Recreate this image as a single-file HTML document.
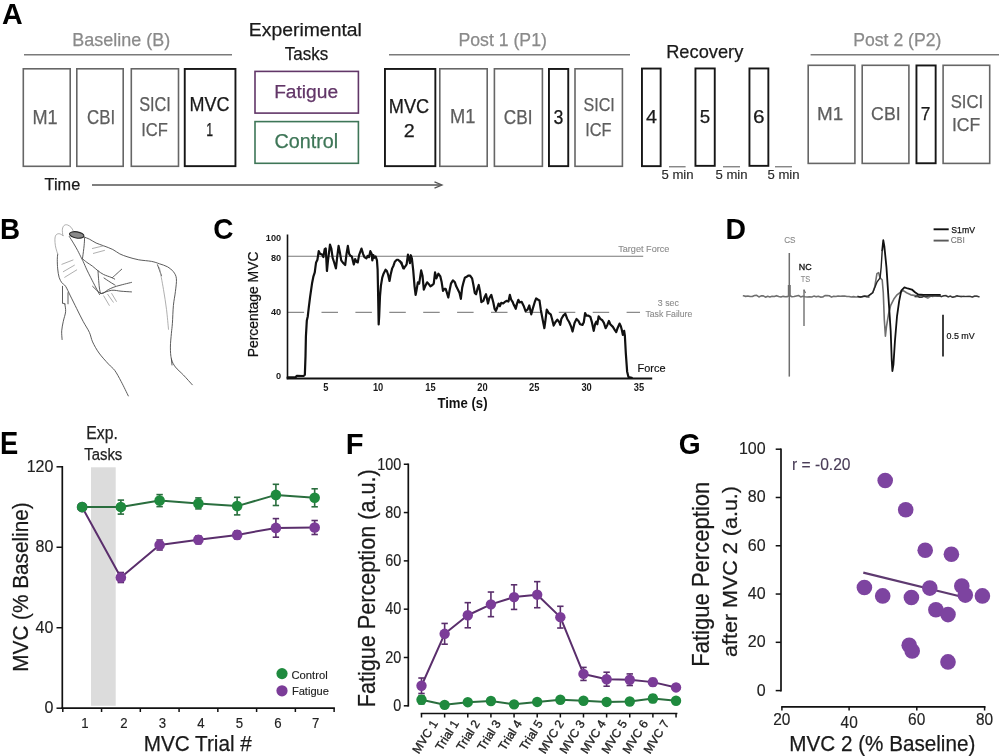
<!DOCTYPE html>
<html><head><meta charset="utf-8"><title>Figure</title>
<style>
html,body{margin:0;padding:0;background:#fff;overflow:hidden;}
svg{display:block;}
svg text{font-family:"Liberation Sans", Arial, sans-serif;}
</style></head>
<body>
<svg width="999" height="756" viewBox="0 0 999 756">
<rect x="0" y="0" width="999" height="756" fill="#fff"/>
<text x="1.89" y="24.40" font-size="29.94" font-weight="bold" fill="#000" textLength="20.67" lengthAdjust="spacingAndGlyphs" >A</text>
<text x="-0.01" y="239.40" font-size="30.09" font-weight="bold" fill="#000" textLength="20.07" lengthAdjust="spacingAndGlyphs" >B</text>
<text x="213.35" y="238.80" font-size="30.09" font-weight="bold" fill="#000" textLength="20.21" lengthAdjust="spacingAndGlyphs" >C</text>
<text x="725.40" y="239.40" font-size="30.38" font-weight="bold" fill="#000" textLength="20.49" lengthAdjust="spacingAndGlyphs" >D</text>
<text x="0.02" y="454.20" font-size="30.52" font-weight="bold" fill="#000" textLength="18.25" lengthAdjust="spacingAndGlyphs" >E</text>
<text x="345.75" y="453.60" font-size="30.09" font-weight="bold" fill="#000" textLength="17.82" lengthAdjust="spacingAndGlyphs" >F</text>
<text x="678.65" y="453.80" font-size="29.36" font-weight="bold" fill="#000" textLength="21.90" lengthAdjust="spacingAndGlyphs" >G</text>
<text x="72.33" y="45.90" font-size="18.31" fill="#8a8a8a" stroke="#8a8a8a" stroke-width="0.25" textLength="97.89" lengthAdjust="spacingAndGlyphs" >Baseline (B)</text>
<line x1="24.00" y1="54.70" x2="232.00" y2="54.70" stroke="#7a7a7a" stroke-width="1.4" />
<text x="248.81" y="36.40" font-size="18.90" fill="#1a1a1a" stroke="#1a1a1a" stroke-width="0.25" textLength="113.09" lengthAdjust="spacingAndGlyphs" >Experimental</text>
<text x="284.83" y="59.70" font-size="18.75" fill="#1a1a1a" stroke="#1a1a1a" stroke-width="0.25" textLength="43.35" lengthAdjust="spacingAndGlyphs" >Tasks</text>
<text x="458.45" y="45.90" font-size="18.31" fill="#8a8a8a" stroke="#8a8a8a" stroke-width="0.25" textLength="88.45" lengthAdjust="spacingAndGlyphs" >Post 1 (P1)</text>
<line x1="389.00" y1="54.70" x2="630.00" y2="54.70" stroke="#7a7a7a" stroke-width="1.4" />
<text x="666.20" y="58.00" font-size="19.04" fill="#1a1a1a" stroke="#1a1a1a" stroke-width="0.25" textLength="77.13" lengthAdjust="spacingAndGlyphs" >Recovery</text>
<text x="853.25" y="45.90" font-size="18.31" fill="#8a8a8a" stroke="#8a8a8a" stroke-width="0.25" textLength="88.14" lengthAdjust="spacingAndGlyphs" >Post 2 (P2)</text>
<line x1="810.60" y1="54.70" x2="999.00" y2="54.70" stroke="#7a7a7a" stroke-width="1.4" />
<rect x="23.30" y="68.80" width="46.90" height="97.50" fill="none" stroke="#666" stroke-width="1.6"/>
<rect x="76.80" y="68.80" width="46.40" height="97.50" fill="none" stroke="#666" stroke-width="1.6"/>
<rect x="131.30" y="68.80" width="47.20" height="97.50" fill="none" stroke="#666" stroke-width="1.6"/>
<rect x="184.75" y="68.95" width="50.70" height="97.20" fill="none" stroke="#161616" stroke-width="1.9"/>
<rect x="384.95" y="68.95" width="50.40" height="97.20" fill="none" stroke="#161616" stroke-width="1.9"/>
<rect x="439.80" y="68.80" width="47.40" height="97.50" fill="none" stroke="#666" stroke-width="1.6"/>
<rect x="494.40" y="68.80" width="48.00" height="97.50" fill="none" stroke="#666" stroke-width="1.6"/>
<rect x="548.95" y="68.95" width="19.30" height="97.20" fill="none" stroke="#161616" stroke-width="1.9"/>
<rect x="575.00" y="68.80" width="47.40" height="97.50" fill="none" stroke="#666" stroke-width="1.6"/>
<rect x="641.95" y="68.55" width="18.70" height="97.60" fill="none" stroke="#161616" stroke-width="1.9"/>
<rect x="695.45" y="68.45" width="19.30" height="97.40" fill="none" stroke="#161616" stroke-width="1.9"/>
<rect x="749.45" y="68.45" width="18.90" height="97.40" fill="none" stroke="#161616" stroke-width="1.9"/>
<rect x="808.20" y="65.30" width="46.70" height="98.10" fill="none" stroke="#666" stroke-width="1.6"/>
<rect x="862.20" y="65.30" width="46.70" height="98.10" fill="none" stroke="#666" stroke-width="1.6"/>
<rect x="916.45" y="65.45" width="19.20" height="97.80" fill="none" stroke="#161616" stroke-width="1.9"/>
<rect x="943.10" y="65.30" width="46.60" height="98.10" fill="none" stroke="#666" stroke-width="1.6"/>
<rect x="255.00" y="71.40" width="103.40" height="41.70" fill="none" stroke="#623668" stroke-width="1.6"/>
<rect x="255.00" y="121.60" width="103.40" height="41.70" fill="none" stroke="#3e7657" stroke-width="1.6"/>
<text x="274.13" y="97.60" font-size="19.19" fill="#623668" stroke="#623668" stroke-width="0.25" textLength="63.92" lengthAdjust="spacingAndGlyphs" >Fatigue</text>
<text x="274.40" y="148.30" font-size="19.91" fill="#3e7657" stroke="#3e7657" stroke-width="0.25" textLength="63.73" lengthAdjust="spacingAndGlyphs" >Control</text>
<text x="32.51" y="123.50" font-size="19.62" fill="#5e5e5e" stroke="#5e5e5e" stroke-width="0.25" textLength="25.17" lengthAdjust="spacingAndGlyphs" >M1</text>
<text x="87.04" y="123.50" font-size="19.62" fill="#5e5e5e" stroke="#5e5e5e" stroke-width="0.25" textLength="28.11" lengthAdjust="spacingAndGlyphs" >CBI</text>
<text x="139.16" y="111.10" font-size="19.48" fill="#5e5e5e" stroke="#5e5e5e" stroke-width="0.25" textLength="31.75" lengthAdjust="spacingAndGlyphs" >SICI</text>
<text x="141.17" y="135.70" font-size="19.19" fill="#5e5e5e" stroke="#5e5e5e" stroke-width="0.25" textLength="26.69" lengthAdjust="spacingAndGlyphs" >ICF</text>
<text x="189.62" y="111.10" font-size="19.48" fill="#1a1a1a" stroke="#1a1a1a" stroke-width="0.25" textLength="39.96" lengthAdjust="spacingAndGlyphs" >MVC</text>
<text x="206.16" y="135.70" font-size="19.19" fill="#1a1a1a" stroke="#1a1a1a" stroke-width="0.25" textLength="6.84" lengthAdjust="spacingAndGlyphs" >1</text>
<text x="388.81" y="112.80" font-size="19.33" fill="#1a1a1a" stroke="#1a1a1a" stroke-width="0.25" textLength="40.38" lengthAdjust="spacingAndGlyphs" >MVC</text>
<text x="403.81" y="137.00" font-size="18.90" fill="#1a1a1a" stroke="#1a1a1a" stroke-width="0.25" textLength="10.99" lengthAdjust="spacingAndGlyphs" >2</text>
<text x="450.10" y="123.30" font-size="19.33" fill="#5e5e5e" stroke="#5e5e5e" stroke-width="0.25" textLength="25.39" lengthAdjust="spacingAndGlyphs" >M1</text>
<text x="503.83" y="123.60" font-size="19.33" fill="#5e5e5e" stroke="#5e5e5e" stroke-width="0.25" textLength="28.66" lengthAdjust="spacingAndGlyphs" >CBI</text>
<text x="553.53" y="123.60" font-size="19.33" fill="#1a1a1a" stroke="#1a1a1a" stroke-width="0.25" textLength="9.85" lengthAdjust="spacingAndGlyphs" >3</text>
<text x="583.47" y="111.30" font-size="18.75" fill="#5e5e5e" stroke="#5e5e5e" stroke-width="0.25" textLength="31.32" lengthAdjust="spacingAndGlyphs" >SICI</text>
<text x="585.20" y="135.50" font-size="18.90" fill="#5e5e5e" stroke="#5e5e5e" stroke-width="0.25" textLength="26.26" lengthAdjust="spacingAndGlyphs" >ICF</text>
<text x="646.04" y="123.10" font-size="19.04" fill="#1a1a1a" stroke="#1a1a1a" stroke-width="0.25" textLength="11.04" lengthAdjust="spacingAndGlyphs" >4</text>
<text x="699.75" y="123.10" font-size="19.04" fill="#1a1a1a" stroke="#1a1a1a" stroke-width="0.25" textLength="10.44" lengthAdjust="spacingAndGlyphs" >5</text>
<text x="753.14" y="123.10" font-size="19.04" fill="#1a1a1a" stroke="#1a1a1a" stroke-width="0.25" textLength="11.57" lengthAdjust="spacingAndGlyphs" >6</text>
<text x="817.05" y="119.50" font-size="19.19" fill="#5e5e5e" stroke="#5e5e5e" stroke-width="0.25" textLength="26.16" lengthAdjust="spacingAndGlyphs" >M1</text>
<text x="871.10" y="119.50" font-size="19.19" fill="#5e5e5e" stroke="#5e5e5e" stroke-width="0.25" textLength="29.53" lengthAdjust="spacingAndGlyphs" >CBI</text>
<text x="920.81" y="119.50" font-size="19.19" fill="#1a1a1a" stroke="#1a1a1a" stroke-width="0.25" textLength="9.66" lengthAdjust="spacingAndGlyphs" >7</text>
<text x="950.64" y="107.50" font-size="18.90" fill="#5e5e5e" stroke="#5e5e5e" stroke-width="0.25" textLength="32.50" lengthAdjust="spacingAndGlyphs" >SICI</text>
<text x="951.88" y="131.10" font-size="18.60" fill="#5e5e5e" stroke="#5e5e5e" stroke-width="0.25" textLength="28.33" lengthAdjust="spacingAndGlyphs" >ICF</text>
<line x1="669.00" y1="166.75" x2="685.60" y2="166.75" stroke="#7a7a7a" stroke-width="1.3" />
<text x="661.47" y="178.50" font-size="12.06" fill="#2a2a2a" stroke="#2a2a2a" stroke-width="0.15" textLength="32.13" lengthAdjust="spacingAndGlyphs" >5 min</text>
<line x1="723.00" y1="166.75" x2="740.00" y2="166.75" stroke="#7a7a7a" stroke-width="1.3" />
<text x="715.47" y="178.50" font-size="12.06" fill="#2a2a2a" stroke="#2a2a2a" stroke-width="0.15" textLength="32.13" lengthAdjust="spacingAndGlyphs" >5 min</text>
<line x1="775.00" y1="166.75" x2="792.00" y2="166.75" stroke="#7a7a7a" stroke-width="1.3" />
<text x="767.47" y="178.50" font-size="12.06" fill="#2a2a2a" stroke="#2a2a2a" stroke-width="0.15" textLength="32.13" lengthAdjust="spacingAndGlyphs" >5 min</text>
<text x="44.64" y="189.50" font-size="15.63" fill="#1a1a1a" stroke="#1a1a1a" stroke-width="0.25" textLength="35.57" lengthAdjust="spacingAndGlyphs" >Time</text>
<line x1="92.00" y1="185.00" x2="441.00" y2="185.00" stroke="#555" stroke-width="1.3" />
<polyline points="434.5,181.8 442,185 434.5,188.2" fill="none" stroke="#555" stroke-width="1.3"/>
<path d="M84.10,237.00 C85.03,237.38 87.70,238.30 89.70,239.30 C91.70,240.30 93.78,241.92 96.10,243.00 C98.42,244.08 100.82,244.72 103.60,245.80 C106.38,246.88 110.10,248.15 112.80,249.50 C115.50,250.85 117.27,252.65 119.80,253.90 C122.33,255.15 124.85,256.02 128.00,257.00 C131.15,257.98 134.77,259.07 138.70,259.80 C142.63,260.53 148.13,260.73 151.60,261.40 C155.07,262.07 156.85,262.90 159.50,263.80 C162.15,264.70 165.18,265.48 167.50,266.80 C169.82,268.12 171.92,269.72 173.40,271.70 C174.88,273.68 176.07,275.38 176.40,278.70 C176.73,282.02 175.90,287.13 175.40,291.60 C174.90,296.07 173.90,300.22 173.40,305.50 C172.90,310.78 172.73,318.67 172.40,323.30 C172.07,327.93 171.73,329.33 171.40,333.30 C171.07,337.27 170.40,342.82 170.40,347.10 C170.40,351.38 170.57,355.68 171.40,359.00 C172.23,362.32 173.42,364.35 175.40,367.00 C177.38,369.65 180.48,371.93 183.30,374.90 C186.12,377.87 190.80,383.15 192.30,384.80" fill="none" stroke="#4a4a4a" stroke-width="0.9" stroke-linecap="round" stroke-linejoin="round"/>
<path d="M69.30,236.50 C70.07,237.73 72.52,241.58 73.90,243.90 C75.28,246.22 76.37,248.08 77.60,250.40 C78.83,252.72 80.37,255.95 81.30,257.80 C82.23,259.65 82.27,259.48 83.20,261.50 C84.13,263.52 85.67,267.27 86.90,269.90 C88.13,272.53 89.52,275.15 90.60,277.30 C91.68,279.45 92.48,281.02 93.40,282.80 C94.32,284.58 95.08,286.05 96.10,288.00 C97.12,289.95 98.93,293.42 99.50,294.50" fill="none" stroke="#4a4a4a" stroke-width="0.9" stroke-linecap="round" stroke-linejoin="round"/>
<path d="M84.60,237.90 C84.52,239.22 84.42,242.63 84.10,245.80 C83.78,248.97 83.00,254.75 82.70,256.90 C82.40,259.05 82.37,258.40 82.30,258.70" fill="none" stroke="#4a4a4a" stroke-width="0.9" stroke-linecap="round" stroke-linejoin="round"/>
<path d="M82.30,258.70 C83.07,259.32 85.22,261.17 86.90,262.40 C88.58,263.63 90.55,264.70 92.40,266.10 C94.25,267.50 96.13,269.40 98.00,270.80 C99.87,272.20 101.43,273.42 103.60,274.50 C105.77,275.58 109.15,276.53 111.00,277.30 C112.85,278.07 114.08,278.80 114.70,279.10" fill="none" stroke="#4a4a4a" stroke-width="0.9" stroke-linecap="round" stroke-linejoin="round"/>
<path d="M98.00,270.80 C98.08,272.03 98.27,275.33 98.50,278.20 C98.73,281.07 99.07,285.45 99.40,288.00 C99.73,290.55 100.32,292.58 100.50,293.50" fill="none" stroke="#4a4a4a" stroke-width="0.9" stroke-linecap="round" stroke-linejoin="round"/>
<path d="M92.60,286.30 C94.05,287.50 98.65,292.97 101.30,293.50 C103.95,294.03 105.98,290.70 108.50,289.50 C111.02,288.30 112.57,287.48 116.40,286.30 C120.23,285.12 128.98,283.05 131.50,282.40" fill="none" stroke="#4a4a4a" stroke-width="0.9" stroke-linecap="round" stroke-linejoin="round"/>
<path d="M101.30,293.50 C103.03,292.97 108.42,290.68 111.70,290.30 C114.98,289.92 117.70,290.93 121.00,291.20 C124.30,291.47 129.75,291.78 131.50,291.90" fill="none" stroke="#4a4a4a" stroke-width="0.9" stroke-linecap="round" stroke-linejoin="round"/>
<path d="M112.50,277.50 C113.25,276.83 115.47,274.88 117.00,273.50 C118.53,272.12 120.92,269.92 121.70,269.20" fill="none" stroke="#4a4a4a" stroke-width="0.9" stroke-linecap="round" stroke-linejoin="round"/>
<path d="M104.00,278.00 C105.00,278.67 108.15,280.82 110.00,282.00 C111.85,283.18 114.25,284.58 115.10,285.10" fill="none" stroke="#4a4a4a" stroke-width="0.9" stroke-linecap="round" stroke-linejoin="round"/>
<path d="M57.70,254.10 C57.63,255.03 57.30,257.23 57.30,259.70 C57.30,262.17 57.40,265.97 57.70,268.90 C58.00,271.83 58.40,274.98 59.10,277.30 C59.80,279.62 60.82,281.30 61.90,282.80 C62.98,284.30 64.18,284.12 65.60,286.30 C67.02,288.48 68.55,292.18 70.40,295.90 C72.25,299.62 74.58,304.37 76.70,308.60 C78.82,312.83 80.98,317.33 83.10,321.30 C85.22,325.27 87.82,328.97 89.40,332.40 C90.98,335.83 91.00,338.47 92.60,341.90 C94.20,345.33 96.35,349.30 99.00,353.00 C101.65,356.70 105.87,361.18 108.50,364.10 C111.13,367.02 112.68,367.58 114.80,370.50 C116.92,373.42 118.95,377.37 121.20,381.60 C123.45,385.83 127.12,393.52 128.30,395.90" fill="none" stroke="#4a4a4a" stroke-width="0.9" stroke-linecap="round" stroke-linejoin="round"/>
<polyline points="62.50,286.30 62.50,303.00" fill="none" stroke="#4a4a4a" stroke-width="0.9" stroke-linejoin="round" stroke-linecap="round" />
<polyline points="68.00,292.70 68.00,303.80" fill="none" stroke="#4a4a4a" stroke-width="0.9" stroke-linejoin="round" stroke-linecap="round" />
<polyline points="62.50,303.00 65.00,304.00" fill="none" stroke="#4a4a4a" stroke-width="0.9" stroke-linejoin="round" stroke-linecap="round" />
<path d="M64.80,303.80 C64.93,305.12 65.85,308.78 65.60,311.70 C65.35,314.62 63.95,318.12 63.30,321.30 C62.65,324.48 61.90,327.77 61.70,330.80 C61.50,333.83 62.03,338.05 62.10,339.50" fill="none" stroke="#4a4a4a" stroke-width="0.9" stroke-linecap="round" stroke-linejoin="round"/>
<polyline points="157.50,264.80 161.50,275.70" fill="none" stroke="#4a4a4a" stroke-width="0.9" stroke-linejoin="round" stroke-linecap="round" />
<polyline points="171.40,359.00 172.00,365.00" fill="none" stroke="#4a4a4a" stroke-width="0.9" stroke-linejoin="round" stroke-linecap="round" />
<path d="M62.80,235.60 C62.73,234.52 62.17,230.80 62.40,229.10 C62.63,227.40 63.37,226.10 64.20,225.40 C65.03,224.70 66.25,224.58 67.40,224.90 C68.55,225.22 70.17,226.37 71.10,227.30 C72.03,228.23 72.68,229.97 73.00,230.50" fill="none" stroke="#9a9a9a" stroke-width="0.8" stroke-linecap="round" stroke-linejoin="round"/>
<path d="M63.30,235.60 C62.60,235.28 60.33,233.78 59.10,233.70 C57.87,233.62 56.60,234.17 55.90,235.10 C55.20,236.03 54.98,237.52 54.90,239.30 C54.82,241.08 55.08,243.80 55.40,245.80 C55.72,247.80 56.42,249.92 56.80,251.30 C57.18,252.68 57.55,253.63 57.70,254.10" fill="none" stroke="#9a9a9a" stroke-width="0.8" stroke-linecap="round" stroke-linejoin="round"/>
<path d="M159.50,267.80 C160.17,271.43 162.33,282.67 163.50,289.60 C164.67,296.53 165.67,302.78 166.50,309.40 C167.33,316.02 168.17,325.98 168.50,329.30" fill="none" stroke="#9a9a9a" stroke-width="0.8" stroke-linecap="round" stroke-linejoin="round"/>
<polyline points="61.90,264.30 73.00,260.00" fill="none" stroke="#9a9a9a" stroke-width="0.8" stroke-linejoin="round" stroke-linecap="round" />
<polyline points="63.30,271.70 74.40,265.20" fill="none" stroke="#9a9a9a" stroke-width="0.8" stroke-linejoin="round" stroke-linecap="round" />
<polyline points="64.70,277.30 76.70,269.90" fill="none" stroke="#9a9a9a" stroke-width="0.8" stroke-linejoin="round" stroke-linecap="round" />
<polyline points="92.40,248.50 103.60,245.80" fill="none" stroke="#9a9a9a" stroke-width="0.8" stroke-linejoin="round" stroke-linecap="round" />
<polyline points="93.40,253.40 104.50,250.40" fill="none" stroke="#9a9a9a" stroke-width="0.8" stroke-linejoin="round" stroke-linecap="round" />
<polyline points="103.70,295.90 109.30,305.40" fill="none" stroke="#9a9a9a" stroke-width="0.8" stroke-linejoin="round" stroke-linecap="round" />
<polyline points="107.70,294.30 113.30,302.20" fill="none" stroke="#9a9a9a" stroke-width="0.8" stroke-linejoin="round" stroke-linecap="round" />
<polyline points="111.70,293.50 116.40,301.40" fill="none" stroke="#9a9a9a" stroke-width="0.8" stroke-linejoin="round" stroke-linecap="round" />
<ellipse cx="76.7" cy="234.9" rx="7.3" ry="3.1" fill="#8a8a8a" stroke="#2a2a2a" stroke-width="1.1" transform="rotate(9 76.7 234.9)"/>
<line x1="287.50" y1="256.20" x2="643.20" y2="256.20" stroke="#777" stroke-width="1.1" />
<line x1="287.60" y1="312.40" x2="640.00" y2="312.40" stroke="#8a8a8a" stroke-width="1.2" stroke-dasharray="16.5 17.4"/>
<polyline points="287.65,377.32 295.58,377.32 296.91,375.74 303.52,376.00 304.85,374.68 305.51,356.16 305.91,336.31 306.83,320.43 307.76,316.46 308.82,307.20 310.14,296.62 312.12,282.92 313.45,276.31 314.77,272.34 315.43,267.05 316.09,262.42 317.42,259.77 318.74,251.17 320.06,253.82 322.05,254.48 323.37,257.12 324.69,249.18 325.75,248.52 326.94,271.02 328.00,260.43 329.99,244.55 331.31,248.52 332.63,257.79 333.95,261.75 335.94,268.37 337.26,256.46 338.59,245.88 339.91,252.49 341.23,260.43 343.22,263.08 345.20,265.06 346.52,253.82 347.85,245.88 349.17,253.82 350.49,255.80 351.82,256.46 353.80,264.40 355.12,259.11 356.45,261.75 357.77,262.42 359.09,255.14 361.48,248.52 363.06,253.82 364.39,257.12 366.37,258.45 367.69,255.80 369.02,257.12 370.34,251.17 371.66,253.82 372.32,260.43 373.38,255.14 374.31,257.79 375.63,256.46 376.96,260.43 377.62,269.69 378.01,289.54 378.68,324.40 379.20,316.00 380.00,296.16 380.92,285.57 382.25,277.63 383.57,273.66 385.56,269.69 386.88,271.02 388.20,274.99 389.53,280.94 390.85,273.66 392.17,268.37 393.49,265.72 394.82,261.75 396.80,259.77 398.13,259.77 400.11,261.75 401.43,262.42 402.76,267.05 404.08,268.37 400.00,261.17 401.32,263.15 403.31,268.45 405.29,266.46 406.62,264.48 407.94,254.55 409.26,259.85 409.92,263.15 410.85,255.22 411.91,258.52 413.23,270.43 414.55,286.31 415.61,294.91 416.54,290.28 417.86,282.34 419.18,283.66 421.17,270.43 422.49,275.72 423.82,289.62 425.14,286.31 427.12,282.34 428.45,283.66 430.43,286.31 432.42,284.99 433.74,283.66 435.06,272.42 436.39,278.37 438.37,273.74 440.35,276.39 441.68,282.34 443.00,290.94 444.32,288.95 445.65,288.95 446.97,292.92 448.29,297.55 449.62,290.28 450.94,283.66 452.92,280.35 454.91,282.34 456.23,286.31 458.22,290.28 459.54,292.92 460.86,298.88 462.19,287.63 463.51,282.34 464.83,277.71 466.16,277.05 468.14,275.72 470.12,275.72 472.11,278.37 473.43,284.99 474.76,292.92 476.08,294.25 477.40,288.95 478.72,284.99 480.05,291.60 481.37,302.19 483.36,300.86 484.68,296.89 486.00,294.25 487.99,303.51 489.31,298.22 491.29,294.91 493.28,302.19 494.60,308.80 495.92,310.79 497.25,307.48 498.57,303.51 499.89,306.16 501.22,302.85 503.20,303.51 504.53,302.19 506.51,300.86 508.49,301.52 509.82,294.91 511.14,299.54 512.46,301.52 513.79,304.83 515.77,308.80 517.09,303.51 518.42,300.20 516.32,305.72 518.31,299.77 519.63,302.42 521.62,301.75 523.60,305.72 525.58,311.02 527.57,309.69 529.29,305.46 530.22,309.69 531.27,314.32 532.86,308.37 534.85,301.75 536.17,298.45 538.15,299.77 539.48,300.43 540.80,309.69 542.79,320.28 544.37,328.22 545.43,320.28 546.75,309.69 548.74,313.00 550.72,314.32 552.05,318.95 553.63,325.57 555.35,322.26 557.34,319.62 559.32,322.26 560.25,324.91 561.31,318.95 563.29,315.65 565.28,313.66 567.26,318.95 569.25,322.26 571.23,326.89 572.55,331.52 574.54,322.92 576.52,318.95 578.51,320.94 580.10,324.25 582.48,324.91 583.80,322.26 585.12,313.00 586.45,315.65 588.43,315.65 590.42,316.97 591.74,321.60 593.72,330.86 595.05,324.25 596.37,321.60 597.30,324.25 598.62,316.31 600.34,318.95 602.32,320.28 603.91,322.92 605.63,328.22 607.35,324.91 608.94,320.94 610.26,324.25 612.91,326.89 614.89,330.20 616.22,332.19 617.54,328.22 619.53,323.59 620.85,326.23 621.91,330.20 622.83,334.83 624.16,330.86 624.87,335.71 625.79,352.91 627.12,371.43 628.44,376.98 631.75,377.78" fill="none" stroke="#111" stroke-width="2.2" stroke-linejoin="round" stroke-linecap="round" />
<line x1="287.50" y1="234.50" x2="287.50" y2="379.20" stroke="#111" stroke-width="1.6" />
<line x1="286.70" y1="378.50" x2="652.20" y2="378.50" stroke="#111" stroke-width="1.9" />
<text x="265.84" y="240.50" font-size="9.88" font-weight="bold" fill="#1a1a1a" textLength="15.34" lengthAdjust="spacingAndGlyphs" >100</text>
<text x="270.95" y="260.90" font-size="9.88" font-weight="bold" fill="#1a1a1a" textLength="10.22" lengthAdjust="spacingAndGlyphs" >80</text>
<text x="270.95" y="315.20" font-size="9.88" font-weight="bold" fill="#1a1a1a" textLength="10.22" lengthAdjust="spacingAndGlyphs" >40</text>
<text x="276.06" y="379.40" font-size="9.88" font-weight="bold" fill="#1a1a1a" textLength="5.11" lengthAdjust="spacingAndGlyphs" >0</text>
<text x="323.19" y="390.70" font-size="10.03" font-weight="bold" fill="#1a1a1a" textLength="5.19" lengthAdjust="spacingAndGlyphs" >5</text>
<text x="372.91" y="390.70" font-size="10.03" font-weight="bold" fill="#1a1a1a" textLength="10.37" lengthAdjust="spacingAndGlyphs" >10</text>
<text x="425.25" y="390.70" font-size="10.03" font-weight="bold" fill="#1a1a1a" textLength="10.37" lengthAdjust="spacingAndGlyphs" >15</text>
<text x="477.34" y="390.70" font-size="10.03" font-weight="bold" fill="#1a1a1a" textLength="10.37" lengthAdjust="spacingAndGlyphs" >20</text>
<text x="528.98" y="390.70" font-size="10.03" font-weight="bold" fill="#1a1a1a" textLength="10.37" lengthAdjust="spacingAndGlyphs" >25</text>
<text x="581.40" y="390.70" font-size="10.03" font-weight="bold" fill="#1a1a1a" textLength="10.37" lengthAdjust="spacingAndGlyphs" >30</text>
<text x="633.84" y="390.70" font-size="10.03" font-weight="bold" fill="#1a1a1a" textLength="10.37" lengthAdjust="spacingAndGlyphs" >35</text>
<text x="437.45" y="407.80" font-size="13.95" font-weight="bold" fill="#111" textLength="50.10" lengthAdjust="spacingAndGlyphs" >Time (s)</text>
<text transform="translate(258.30 357.24) rotate(-90)" x="0" y="0" font-size="14.83" fill="#111" stroke="#111" stroke-width="0.2" textLength="105.67" lengthAdjust="spacingAndGlyphs">Percentage MVC</text>
<text x="618.20" y="252.00" font-size="9.45" fill="#8a8a8a" stroke="#8a8a8a" stroke-width="0.1" textLength="51.20" lengthAdjust="spacingAndGlyphs" >Target Force</text>
<text x="657.86" y="306.30" font-size="9.45" fill="#8a8a8a" stroke="#8a8a8a" stroke-width="0.1" textLength="21.07" lengthAdjust="spacingAndGlyphs" >3 sec</text>
<text x="645.41" y="317.20" font-size="9.59" fill="#8a8a8a" stroke="#8a8a8a" stroke-width="0.1" textLength="46.97" lengthAdjust="spacingAndGlyphs" >Task Failure</text>
<text x="637.50" y="372.00" font-size="10.47" fill="#111" stroke="#111" stroke-width="0.2" textLength="27.98" lengthAdjust="spacingAndGlyphs" >Force</text>
<polyline points="743.50,295.83 745.70,296.38 747.90,296.07 750.10,296.49 752.30,296.53 754.50,295.52 756.70,295.42 758.90,296.91 761.10,295.87 763.30,295.82 765.50,297.19 767.70,296.25 769.90,296.91 772.10,296.26 774.30,296.55 776.50,295.67 778.70,296.54 780.90,296.96 783.10,296.34 785.30,296.73 787.50,296.61 789.70,295.52 791.90,296.76 794.10,296.46 796.30,295.94 798.50,295.46 800.70,296.96 802.90,296.25 805.10,296.69 807.30,296.98 809.50,296.69 811.70,297.06 813.90,296.11 816.10,296.84 818.30,296.20 820.50,297.08 822.70,296.98 824.90,295.58 827.10,295.64 829.30,295.79 831.50,297.14 833.70,296.19 835.90,296.53 838.10,295.94 840.30,296.31 842.50,296.09 844.70,296.03 846.90,296.45 849.10,296.45 851.30,297.03 853.50,296.63 855.70,297.07 857.90,296.94 860.10,297.18 862.30,296.61 864.50,295.69 866.70,296.95 868.90,297.14 868.47,295.90 872.70,292.72 874.81,286.38 876.93,273.68 878.62,272.62 880.11,277.91 882.22,280.03 883.28,292.72 884.34,320.24 885.40,336.11 886.46,326.59 888.57,313.89 890.69,305.42 893.86,299.07 897.04,294.84 900.21,292.30 903.39,290.61 906.56,292.72 910.79,294.84 917.14,295.90 923.49,295.90 927.72,298.02 931.96,295.90 940.00,295.90 915.10,296.69 917.30,296.00 919.50,296.99 921.70,297.17 923.90,296.31 926.10,297.20 928.30,295.96 930.50,295.54 932.70,296.48 934.90,295.46 937.10,295.76 939.30,296.13 941.50,296.50 943.70,295.68 945.90,295.48 948.10,296.96 950.30,295.96 952.50,297.13 954.70,297.01 956.90,296.08 959.10,296.23 961.30,296.34 963.50,296.56 965.70,296.47 967.90,296.41 970.10,296.52 972.30,297.09 974.50,296.31 976.70,296.18 978.90,296.70" fill="none" stroke="#6f6f6f" stroke-width="1.6" stroke-linejoin="round" stroke-linecap="round" />
<line x1="789.30" y1="253.00" x2="789.30" y2="376.60" stroke="#6f6f6f" stroke-width="1.5" />
<rect x="787.8" y="285" width="3" height="11" fill="#6f6f6f"/>
<line x1="804.00" y1="289.50" x2="804.00" y2="326.00" stroke="#6f6f6f" stroke-width="1.4" />
<line x1="804.00" y1="290.00" x2="805.50" y2="293.00" stroke="#6f6f6f" stroke-width="1.2" />
<polyline points="882.22,250.40 883.28,240.24 884.34,246.16 886.46,267.33 888.57,299.07 890.69,330.82 891.75,360.45 892.38,371.03 893.44,364.68 894.92,341.40 897.04,316.01 899.15,301.19 901.27,290.61 904.44,287.43 907.62,288.49 911.85,289.55 915.03,292.30 918.20,294.42 923.49,294.84 940.00,294.84" fill="none" stroke="#111" stroke-width="1.8" stroke-linejoin="round" stroke-linecap="round" />
<polyline points="858.00,296.30 860.00,296.96 868.47,295.90 872.70,292.72 874.81,287.43 876.93,282.14 880.11,277.91 881.16,267.33 882.22,250.40" fill="none" stroke="#222" stroke-width="1.4" stroke-linejoin="round" stroke-linecap="round" />
<polyline points="915.10,296.43 917.30,295.80 919.50,297.46 921.70,297.19 923.90,296.36 926.10,296.71 928.30,295.87 930.50,295.62 932.70,296.00 934.90,295.57 937.10,295.89 939.30,295.69 941.50,296.63 943.70,295.65 945.90,295.66 948.10,296.81 950.30,296.17 952.50,297.36 954.70,296.54 956.90,295.64 959.10,296.40 961.30,296.80 963.50,296.31 965.70,296.43 967.90,296.50 970.10,296.34 972.30,296.96 974.50,296.13 976.70,296.05 978.90,296.79" fill="none" stroke="#333" stroke-width="1.1" stroke-linejoin="round" stroke-linecap="round" />
<text x="784.18" y="242.70" font-size="9.74" fill="#8a8a8a" stroke="#8a8a8a" stroke-width="0.1" textLength="11.39" lengthAdjust="spacingAndGlyphs" >CS</text>
<text x="798.77" y="270.00" font-size="9.01" fill="#111" stroke="#111" stroke-width="0.3" textLength="12.87" lengthAdjust="spacingAndGlyphs" >NC</text>
<text x="800.83" y="281.70" font-size="9.01" fill="#8a8a8a" stroke="#8a8a8a" stroke-width="0.1" textLength="9.51" lengthAdjust="spacingAndGlyphs" >TS</text>
<line x1="943.00" y1="314.70" x2="943.00" y2="356.60" stroke="#111" stroke-width="1.6" />
<text x="946.45" y="339.00" font-size="9.74" fill="#111" stroke="#111" stroke-width="0.2" textLength="28.29" lengthAdjust="spacingAndGlyphs" >0.5 mV</text>
<line x1="933.60" y1="229.30" x2="948.70" y2="229.30" stroke="#111" stroke-width="1.9" />
<line x1="933.60" y1="240.60" x2="948.70" y2="240.60" stroke="#5a5a5a" stroke-width="1.9" />
<text x="951.31" y="233.20" font-size="9.59" fill="#111" stroke="#111" stroke-width="0.25" textLength="23.63" lengthAdjust="spacingAndGlyphs" >S1mV</text>
<text x="950.77" y="243.40" font-size="8.72" fill="#777" stroke="#777" stroke-width="0.1" textLength="14.00" lengthAdjust="spacingAndGlyphs" >CBI</text>
<text x="86.31" y="438.70" font-size="17.59" fill="#222" stroke="#222" stroke-width="0.25" textLength="31.53" lengthAdjust="spacingAndGlyphs" >Exp.</text>
<text x="84.28" y="459.70" font-size="16.86" fill="#222" stroke="#222" stroke-width="0.25" textLength="38.04" lengthAdjust="spacingAndGlyphs" >Tasks</text>
<rect x="91" y="467.3" width="24.7" height="238.5" fill="#dcdcdc"/>
<line x1="62.30" y1="466.00" x2="62.30" y2="708.80" stroke="#111" stroke-width="1.7" />
<line x1="61.50" y1="708.20" x2="334.90" y2="708.20" stroke="#111" stroke-width="1.7" />
<line x1="56.50" y1="466.80" x2="62.30" y2="466.80" stroke="#111" stroke-width="1.5" />
<text x="26.64" y="472.00" font-size="16.35" fill="#222" stroke="#222" stroke-width="0.15" textLength="26.74" lengthAdjust="spacingAndGlyphs" >120</text>
<line x1="56.50" y1="547.26" x2="62.30" y2="547.26" stroke="#111" stroke-width="1.5" />
<text x="35.55" y="552.46" font-size="16.35" fill="#222" stroke="#222" stroke-width="0.15" textLength="17.82" lengthAdjust="spacingAndGlyphs" >80</text>
<line x1="56.50" y1="627.73" x2="62.30" y2="627.73" stroke="#111" stroke-width="1.5" />
<text x="35.55" y="632.93" font-size="16.35" fill="#222" stroke="#222" stroke-width="0.15" textLength="17.82" lengthAdjust="spacingAndGlyphs" >40</text>
<line x1="56.50" y1="708.20" x2="62.30" y2="708.20" stroke="#111" stroke-width="1.5" />
<text x="44.46" y="713.40" font-size="16.35" fill="#222" stroke="#222" stroke-width="0.15" textLength="8.91" lengthAdjust="spacingAndGlyphs" >0</text>
<line x1="62.80" y1="708.20" x2="62.80" y2="712.00" stroke="#111" stroke-width="1.5" />
<line x1="101.56" y1="708.20" x2="101.56" y2="712.00" stroke="#111" stroke-width="1.5" />
<line x1="140.32" y1="708.20" x2="140.32" y2="712.00" stroke="#111" stroke-width="1.5" />
<line x1="179.08" y1="708.20" x2="179.08" y2="712.00" stroke="#111" stroke-width="1.5" />
<line x1="217.84" y1="708.20" x2="217.84" y2="712.00" stroke="#111" stroke-width="1.5" />
<line x1="256.60" y1="708.20" x2="256.60" y2="712.00" stroke="#111" stroke-width="1.5" />
<line x1="295.36" y1="708.20" x2="295.36" y2="712.00" stroke="#111" stroke-width="1.5" />
<line x1="334.12" y1="708.20" x2="334.12" y2="712.00" stroke="#111" stroke-width="1.5" />
<text x="81.35" y="727.50" font-size="14.68" fill="#222" stroke="#222" stroke-width="0.15" textLength="7.35" lengthAdjust="spacingAndGlyphs" >1</text>
<text x="120.23" y="727.50" font-size="14.68" fill="#222" stroke="#222" stroke-width="0.15" textLength="7.35" lengthAdjust="spacingAndGlyphs" >2</text>
<text x="158.66" y="727.50" font-size="14.68" fill="#222" stroke="#222" stroke-width="0.15" textLength="7.35" lengthAdjust="spacingAndGlyphs" >3</text>
<text x="197.37" y="727.50" font-size="14.68" fill="#222" stroke="#222" stroke-width="0.15" textLength="7.35" lengthAdjust="spacingAndGlyphs" >4</text>
<text x="235.74" y="727.50" font-size="14.68" fill="#222" stroke="#222" stroke-width="0.15" textLength="7.35" lengthAdjust="spacingAndGlyphs" >5</text>
<text x="274.28" y="727.50" font-size="14.68" fill="#222" stroke="#222" stroke-width="0.15" textLength="7.35" lengthAdjust="spacingAndGlyphs" >6</text>
<text x="311.92" y="727.50" font-size="14.68" fill="#222" stroke="#222" stroke-width="0.15" textLength="7.35" lengthAdjust="spacingAndGlyphs" >7</text>
<text x="143.72" y="751.20" font-size="22.38" fill="#1a1a1a" stroke="#1a1a1a" stroke-width="0.25" textLength="108.08" lengthAdjust="spacingAndGlyphs" >MVC Trial #</text>
<text transform="translate(27.70 671.70) rotate(-90)" x="0" y="0" font-size="22.97" fill="#1a1a1a" stroke="#1a1a1a" stroke-width="0.25" textLength="169.29" lengthAdjust="spacingAndGlyphs">MVC (% Baseline)</text>
<polyline points="82.10,507.10 120.86,577.50 159.62,545.00 198.38,539.80 237.14,534.90 275.90,527.90 314.66,527.50" fill="none" stroke="#5a2e6c" stroke-width="2" stroke-linejoin="round" stroke-linecap="round" />
<circle cx="82.10" cy="507.10" r="5.3" fill="#7b3c98"/>
<line x1="120.86" y1="572.50" x2="120.86" y2="582.50" stroke="#5a2e6c" stroke-width="1.6" />
<line x1="117.66" y1="572.50" x2="124.06" y2="572.50" stroke="#5a2e6c" stroke-width="1.6" />
<line x1="117.66" y1="582.50" x2="124.06" y2="582.50" stroke="#5a2e6c" stroke-width="1.6" />
<circle cx="120.86" cy="577.50" r="5.3" fill="#7b3c98"/>
<line x1="159.62" y1="540.00" x2="159.62" y2="550.00" stroke="#5a2e6c" stroke-width="1.6" />
<line x1="156.42" y1="540.00" x2="162.82" y2="540.00" stroke="#5a2e6c" stroke-width="1.6" />
<line x1="156.42" y1="550.00" x2="162.82" y2="550.00" stroke="#5a2e6c" stroke-width="1.6" />
<circle cx="159.62" cy="545.00" r="5.3" fill="#7b3c98"/>
<line x1="198.38" y1="535.80" x2="198.38" y2="543.80" stroke="#5a2e6c" stroke-width="1.6" />
<line x1="195.18" y1="535.80" x2="201.58" y2="535.80" stroke="#5a2e6c" stroke-width="1.6" />
<line x1="195.18" y1="543.80" x2="201.58" y2="543.80" stroke="#5a2e6c" stroke-width="1.6" />
<circle cx="198.38" cy="539.80" r="5.3" fill="#7b3c98"/>
<line x1="237.14" y1="530.90" x2="237.14" y2="538.90" stroke="#5a2e6c" stroke-width="1.6" />
<line x1="233.94" y1="530.90" x2="240.34" y2="530.90" stroke="#5a2e6c" stroke-width="1.6" />
<line x1="233.94" y1="538.90" x2="240.34" y2="538.90" stroke="#5a2e6c" stroke-width="1.6" />
<circle cx="237.14" cy="534.90" r="5.3" fill="#7b3c98"/>
<line x1="275.90" y1="518.60" x2="275.90" y2="537.20" stroke="#5a2e6c" stroke-width="1.6" />
<line x1="272.70" y1="518.60" x2="279.10" y2="518.60" stroke="#5a2e6c" stroke-width="1.6" />
<line x1="272.70" y1="537.20" x2="279.10" y2="537.20" stroke="#5a2e6c" stroke-width="1.6" />
<circle cx="275.90" cy="527.90" r="5.3" fill="#7b3c98"/>
<line x1="314.66" y1="520.50" x2="314.66" y2="534.50" stroke="#5a2e6c" stroke-width="1.6" />
<line x1="311.46" y1="520.50" x2="317.86" y2="520.50" stroke="#5a2e6c" stroke-width="1.6" />
<line x1="311.46" y1="534.50" x2="317.86" y2="534.50" stroke="#5a2e6c" stroke-width="1.6" />
<circle cx="314.66" cy="527.50" r="5.3" fill="#7b3c98"/>
<polyline points="82.10,507.10 120.86,507.10 159.62,500.60 198.38,503.40 237.14,506.10 275.90,494.90 314.66,497.80" fill="none" stroke="#2a6e3e" stroke-width="2" stroke-linejoin="round" stroke-linecap="round" />
<circle cx="82.10" cy="507.10" r="5.3" fill="#1f8a3e"/>
<line x1="120.86" y1="500.10" x2="120.86" y2="514.10" stroke="#2a6e3e" stroke-width="1.6" />
<line x1="117.66" y1="500.10" x2="124.06" y2="500.10" stroke="#2a6e3e" stroke-width="1.6" />
<line x1="117.66" y1="514.10" x2="124.06" y2="514.10" stroke="#2a6e3e" stroke-width="1.6" />
<circle cx="120.86" cy="507.10" r="5.3" fill="#1f8a3e"/>
<line x1="159.62" y1="494.60" x2="159.62" y2="506.60" stroke="#2a6e3e" stroke-width="1.6" />
<line x1="156.42" y1="494.60" x2="162.82" y2="494.60" stroke="#2a6e3e" stroke-width="1.6" />
<line x1="156.42" y1="506.60" x2="162.82" y2="506.60" stroke="#2a6e3e" stroke-width="1.6" />
<circle cx="159.62" cy="500.60" r="5.3" fill="#1f8a3e"/>
<line x1="198.38" y1="497.90" x2="198.38" y2="508.90" stroke="#2a6e3e" stroke-width="1.6" />
<line x1="195.18" y1="497.90" x2="201.58" y2="497.90" stroke="#2a6e3e" stroke-width="1.6" />
<line x1="195.18" y1="508.90" x2="201.58" y2="508.90" stroke="#2a6e3e" stroke-width="1.6" />
<circle cx="198.38" cy="503.40" r="5.3" fill="#1f8a3e"/>
<line x1="237.14" y1="497.30" x2="237.14" y2="514.90" stroke="#2a6e3e" stroke-width="1.6" />
<line x1="233.94" y1="497.30" x2="240.34" y2="497.30" stroke="#2a6e3e" stroke-width="1.6" />
<line x1="233.94" y1="514.90" x2="240.34" y2="514.90" stroke="#2a6e3e" stroke-width="1.6" />
<circle cx="237.14" cy="506.10" r="5.3" fill="#1f8a3e"/>
<line x1="275.90" y1="484.30" x2="275.90" y2="505.50" stroke="#2a6e3e" stroke-width="1.6" />
<line x1="272.70" y1="484.30" x2="279.10" y2="484.30" stroke="#2a6e3e" stroke-width="1.6" />
<line x1="272.70" y1="505.50" x2="279.10" y2="505.50" stroke="#2a6e3e" stroke-width="1.6" />
<circle cx="275.90" cy="494.90" r="5.3" fill="#1f8a3e"/>
<line x1="314.66" y1="488.80" x2="314.66" y2="506.80" stroke="#2a6e3e" stroke-width="1.6" />
<line x1="311.46" y1="488.80" x2="317.86" y2="488.80" stroke="#2a6e3e" stroke-width="1.6" />
<line x1="311.46" y1="506.80" x2="317.86" y2="506.80" stroke="#2a6e3e" stroke-width="1.6" />
<circle cx="314.66" cy="497.80" r="5.3" fill="#1f8a3e"/>
<circle cx="282.00" cy="673.60" r="5.6" fill="#1f8a3e"/>
<circle cx="282.00" cy="690.80" r="5.6" fill="#7b3c98"/>
<text x="291.43" y="678.80" font-size="11.63" fill="#222" stroke="#222" stroke-width="0.15" textLength="36.22" lengthAdjust="spacingAndGlyphs" >Control</text>
<text x="291.89" y="695.20" font-size="11.63" fill="#222" stroke="#222" stroke-width="0.15" textLength="37.11" lengthAdjust="spacingAndGlyphs" >Fatigue</text>
<line x1="408.30" y1="463.50" x2="408.30" y2="706.60" stroke="#111" stroke-width="1.7" />
<line x1="403.80" y1="464.25" x2="408.30" y2="464.25" stroke="#111" stroke-width="1.5" />
<text x="377.30" y="469.50" font-size="15.99" fill="#222" stroke="#222" stroke-width="0.15" textLength="24.01" lengthAdjust="spacingAndGlyphs" >100</text>
<line x1="403.80" y1="512.56" x2="408.30" y2="512.56" stroke="#111" stroke-width="1.5" />
<text x="385.31" y="517.81" font-size="15.99" fill="#222" stroke="#222" stroke-width="0.15" textLength="16.01" lengthAdjust="spacingAndGlyphs" >80</text>
<line x1="403.80" y1="560.87" x2="408.30" y2="560.87" stroke="#111" stroke-width="1.5" />
<text x="385.31" y="566.12" font-size="15.99" fill="#222" stroke="#222" stroke-width="0.15" textLength="16.01" lengthAdjust="spacingAndGlyphs" >60</text>
<line x1="403.80" y1="609.18" x2="408.30" y2="609.18" stroke="#111" stroke-width="1.5" />
<text x="385.31" y="614.43" font-size="15.99" fill="#222" stroke="#222" stroke-width="0.15" textLength="16.01" lengthAdjust="spacingAndGlyphs" >40</text>
<line x1="403.80" y1="657.49" x2="408.30" y2="657.49" stroke="#111" stroke-width="1.5" />
<text x="385.31" y="662.74" font-size="15.99" fill="#222" stroke="#222" stroke-width="0.15" textLength="16.01" lengthAdjust="spacingAndGlyphs" >20</text>
<line x1="403.80" y1="705.80" x2="408.30" y2="705.80" stroke="#111" stroke-width="1.5" />
<text x="393.31" y="711.05" font-size="15.99" fill="#222" stroke="#222" stroke-width="0.15" textLength="8.00" lengthAdjust="spacingAndGlyphs" >0</text>
<line x1="420.70" y1="713.50" x2="677.40" y2="713.50" stroke="#111" stroke-width="1.7" />
<line x1="421.50" y1="713.50" x2="421.50" y2="717.50" stroke="#111" stroke-width="1.5" />
<line x1="444.64" y1="713.50" x2="444.64" y2="717.50" stroke="#111" stroke-width="1.5" />
<line x1="467.78" y1="713.50" x2="467.78" y2="717.50" stroke="#111" stroke-width="1.5" />
<line x1="490.92" y1="713.50" x2="490.92" y2="717.50" stroke="#111" stroke-width="1.5" />
<line x1="514.06" y1="713.50" x2="514.06" y2="717.50" stroke="#111" stroke-width="1.5" />
<line x1="537.20" y1="713.50" x2="537.20" y2="717.50" stroke="#111" stroke-width="1.5" />
<line x1="560.34" y1="713.50" x2="560.34" y2="717.50" stroke="#111" stroke-width="1.5" />
<line x1="583.48" y1="713.50" x2="583.48" y2="717.50" stroke="#111" stroke-width="1.5" />
<line x1="606.62" y1="713.50" x2="606.62" y2="717.50" stroke="#111" stroke-width="1.5" />
<line x1="629.76" y1="713.50" x2="629.76" y2="717.50" stroke="#111" stroke-width="1.5" />
<line x1="652.90" y1="713.50" x2="652.90" y2="717.50" stroke="#111" stroke-width="1.5" />
<line x1="676.04" y1="713.50" x2="676.04" y2="717.50" stroke="#111" stroke-width="1.5" />
<text transform="translate(438.2 723.4) rotate(-58)" x="0" y="0" font-size="12" fill="#222" stroke="#222" stroke-width="0.35" text-anchor="end">MVC 1</text>
<text transform="translate(459.2 723.4) rotate(-58)" x="0" y="0" font-size="12" fill="#222" stroke="#222" stroke-width="0.35" text-anchor="end">Trial 1</text>
<text transform="translate(480.3 723.4) rotate(-58)" x="0" y="0" font-size="12" fill="#222" stroke="#222" stroke-width="0.35" text-anchor="end">Trial 2</text>
<text transform="translate(501.3 723.4) rotate(-58)" x="0" y="0" font-size="12" fill="#222" stroke="#222" stroke-width="0.35" text-anchor="end">Trial 3</text>
<text transform="translate(522.3 723.4) rotate(-58)" x="0" y="0" font-size="12" fill="#222" stroke="#222" stroke-width="0.35" text-anchor="end">Trial 4</text>
<text transform="translate(543.4 723.4) rotate(-58)" x="0" y="0" font-size="12" fill="#222" stroke="#222" stroke-width="0.35" text-anchor="end">Trial 5</text>
<text transform="translate(564.4 723.4) rotate(-58)" x="0" y="0" font-size="12" fill="#222" stroke="#222" stroke-width="0.35" text-anchor="end">MVC 2</text>
<text transform="translate(585.4 723.4) rotate(-58)" x="0" y="0" font-size="12" fill="#222" stroke="#222" stroke-width="0.35" text-anchor="end">MVC 3</text>
<text transform="translate(606.4 723.4) rotate(-58)" x="0" y="0" font-size="12" fill="#222" stroke="#222" stroke-width="0.35" text-anchor="end">MVC 4</text>
<text transform="translate(627.5 723.4) rotate(-58)" x="0" y="0" font-size="12" fill="#222" stroke="#222" stroke-width="0.35" text-anchor="end">MVC 5</text>
<text transform="translate(648.5 723.4) rotate(-58)" x="0" y="0" font-size="12" fill="#222" stroke="#222" stroke-width="0.35" text-anchor="end">MVC 6</text>
<text transform="translate(669.5 723.4) rotate(-58)" x="0" y="0" font-size="12" fill="#222" stroke="#222" stroke-width="0.35" text-anchor="end">MVC 7</text>
<text transform="translate(375.40 707.27) rotate(-90)" x="0" y="0" font-size="23.26" fill="#1a1a1a" stroke="#1a1a1a" stroke-width="0.25" textLength="237.91" lengthAdjust="spacingAndGlyphs">Fatigue Perception (a.u.)</text>
<polyline points="421.50,685.75 444.64,633.82 467.78,615.22 490.92,604.35 514.06,597.10 537.20,594.69 560.34,617.15 583.48,673.92 606.62,679.23 629.76,679.71 652.90,682.13 676.04,687.44" fill="none" stroke="#5a2e6c" stroke-width="2" stroke-linejoin="round" stroke-linecap="round" />
<line x1="421.50" y1="678.02" x2="421.50" y2="693.48" stroke="#5a2e6c" stroke-width="1.6" />
<line x1="418.30" y1="678.02" x2="424.70" y2="678.02" stroke="#5a2e6c" stroke-width="1.6" />
<line x1="418.30" y1="693.48" x2="424.70" y2="693.48" stroke="#5a2e6c" stroke-width="1.6" />
<circle cx="421.50" cy="685.75" r="5.2" fill="#7b3c98"/>
<line x1="444.64" y1="623.43" x2="444.64" y2="644.20" stroke="#5a2e6c" stroke-width="1.6" />
<line x1="441.44" y1="623.43" x2="447.84" y2="623.43" stroke="#5a2e6c" stroke-width="1.6" />
<line x1="441.44" y1="644.20" x2="447.84" y2="644.20" stroke="#5a2e6c" stroke-width="1.6" />
<circle cx="444.64" cy="633.82" r="5.2" fill="#7b3c98"/>
<line x1="467.78" y1="602.66" x2="467.78" y2="627.78" stroke="#5a2e6c" stroke-width="1.6" />
<line x1="464.58" y1="602.66" x2="470.98" y2="602.66" stroke="#5a2e6c" stroke-width="1.6" />
<line x1="464.58" y1="627.78" x2="470.98" y2="627.78" stroke="#5a2e6c" stroke-width="1.6" />
<circle cx="467.78" cy="615.22" r="5.2" fill="#7b3c98"/>
<line x1="490.92" y1="592.03" x2="490.92" y2="616.67" stroke="#5a2e6c" stroke-width="1.6" />
<line x1="487.72" y1="592.03" x2="494.12" y2="592.03" stroke="#5a2e6c" stroke-width="1.6" />
<line x1="487.72" y1="616.67" x2="494.12" y2="616.67" stroke="#5a2e6c" stroke-width="1.6" />
<circle cx="490.92" cy="604.35" r="5.2" fill="#7b3c98"/>
<line x1="514.06" y1="584.78" x2="514.06" y2="609.42" stroke="#5a2e6c" stroke-width="1.6" />
<line x1="510.86" y1="584.78" x2="517.26" y2="584.78" stroke="#5a2e6c" stroke-width="1.6" />
<line x1="510.86" y1="609.42" x2="517.26" y2="609.42" stroke="#5a2e6c" stroke-width="1.6" />
<circle cx="514.06" cy="597.10" r="5.2" fill="#7b3c98"/>
<line x1="537.20" y1="581.64" x2="537.20" y2="607.73" stroke="#5a2e6c" stroke-width="1.6" />
<line x1="534.00" y1="581.64" x2="540.40" y2="581.64" stroke="#5a2e6c" stroke-width="1.6" />
<line x1="534.00" y1="607.73" x2="540.40" y2="607.73" stroke="#5a2e6c" stroke-width="1.6" />
<circle cx="537.20" cy="594.69" r="5.2" fill="#7b3c98"/>
<line x1="560.34" y1="606.28" x2="560.34" y2="628.02" stroke="#5a2e6c" stroke-width="1.6" />
<line x1="557.14" y1="606.28" x2="563.54" y2="606.28" stroke="#5a2e6c" stroke-width="1.6" />
<line x1="557.14" y1="628.02" x2="563.54" y2="628.02" stroke="#5a2e6c" stroke-width="1.6" />
<circle cx="560.34" cy="617.15" r="5.2" fill="#7b3c98"/>
<line x1="583.48" y1="667.39" x2="583.48" y2="680.44" stroke="#5a2e6c" stroke-width="1.6" />
<line x1="580.28" y1="667.39" x2="586.68" y2="667.39" stroke="#5a2e6c" stroke-width="1.6" />
<line x1="580.28" y1="680.44" x2="586.68" y2="680.44" stroke="#5a2e6c" stroke-width="1.6" />
<circle cx="583.48" cy="673.92" r="5.2" fill="#7b3c98"/>
<line x1="606.62" y1="672.22" x2="606.62" y2="686.23" stroke="#5a2e6c" stroke-width="1.6" />
<line x1="603.42" y1="672.22" x2="609.82" y2="672.22" stroke="#5a2e6c" stroke-width="1.6" />
<line x1="603.42" y1="686.23" x2="609.82" y2="686.23" stroke="#5a2e6c" stroke-width="1.6" />
<circle cx="606.62" cy="679.23" r="5.2" fill="#7b3c98"/>
<line x1="629.76" y1="673.92" x2="629.76" y2="685.51" stroke="#5a2e6c" stroke-width="1.6" />
<line x1="626.56" y1="673.92" x2="632.96" y2="673.92" stroke="#5a2e6c" stroke-width="1.6" />
<line x1="626.56" y1="685.51" x2="632.96" y2="685.51" stroke="#5a2e6c" stroke-width="1.6" />
<circle cx="629.76" cy="679.71" r="5.2" fill="#7b3c98"/>
<line x1="652.90" y1="678.50" x2="652.90" y2="685.75" stroke="#5a2e6c" stroke-width="1.6" />
<line x1="649.70" y1="678.50" x2="656.10" y2="678.50" stroke="#5a2e6c" stroke-width="1.6" />
<line x1="649.70" y1="685.75" x2="656.10" y2="685.75" stroke="#5a2e6c" stroke-width="1.6" />
<circle cx="652.90" cy="682.13" r="5.2" fill="#7b3c98"/>
<line x1="676.04" y1="684.54" x2="676.04" y2="690.34" stroke="#5a2e6c" stroke-width="1.6" />
<line x1="672.84" y1="684.54" x2="679.24" y2="684.54" stroke="#5a2e6c" stroke-width="1.6" />
<line x1="672.84" y1="690.34" x2="679.24" y2="690.34" stroke="#5a2e6c" stroke-width="1.6" />
<circle cx="676.04" cy="687.44" r="5.2" fill="#7b3c98"/>
<polyline points="421.50,699.76 444.64,704.83 467.78,702.18 490.92,700.97 514.06,704.35 537.20,701.94 560.34,699.76 583.48,700.73 606.62,701.94 629.76,701.45 652.90,698.55 676.04,700.73" fill="none" stroke="#2a6e3e" stroke-width="2" stroke-linejoin="round" stroke-linecap="round" />
<line x1="421.50" y1="695.65" x2="421.50" y2="703.87" stroke="#2a6e3e" stroke-width="1.6" />
<line x1="418.30" y1="695.65" x2="424.70" y2="695.65" stroke="#2a6e3e" stroke-width="1.6" />
<line x1="418.30" y1="703.87" x2="424.70" y2="703.87" stroke="#2a6e3e" stroke-width="1.6" />
<circle cx="421.50" cy="699.76" r="5.2" fill="#1f8a3e"/>
<circle cx="444.64" cy="704.83" r="5.2" fill="#1f8a3e"/>
<circle cx="467.78" cy="702.18" r="5.2" fill="#1f8a3e"/>
<line x1="490.92" y1="699.04" x2="490.92" y2="702.90" stroke="#2a6e3e" stroke-width="1.6" />
<line x1="487.72" y1="699.04" x2="494.12" y2="699.04" stroke="#2a6e3e" stroke-width="1.6" />
<line x1="487.72" y1="702.90" x2="494.12" y2="702.90" stroke="#2a6e3e" stroke-width="1.6" />
<circle cx="490.92" cy="700.97" r="5.2" fill="#1f8a3e"/>
<circle cx="514.06" cy="704.35" r="5.2" fill="#1f8a3e"/>
<circle cx="537.20" cy="701.94" r="5.2" fill="#1f8a3e"/>
<circle cx="560.34" cy="699.76" r="5.2" fill="#1f8a3e"/>
<circle cx="583.48" cy="700.73" r="5.2" fill="#1f8a3e"/>
<circle cx="606.62" cy="701.94" r="5.2" fill="#1f8a3e"/>
<circle cx="629.76" cy="701.45" r="5.2" fill="#1f8a3e"/>
<line x1="652.90" y1="694.69" x2="652.90" y2="702.42" stroke="#2a6e3e" stroke-width="1.6" />
<line x1="649.70" y1="694.69" x2="656.10" y2="694.69" stroke="#2a6e3e" stroke-width="1.6" />
<line x1="649.70" y1="702.42" x2="656.10" y2="702.42" stroke="#2a6e3e" stroke-width="1.6" />
<circle cx="652.90" cy="698.55" r="5.2" fill="#1f8a3e"/>
<line x1="676.04" y1="699.28" x2="676.04" y2="702.18" stroke="#2a6e3e" stroke-width="1.6" />
<line x1="672.84" y1="699.28" x2="679.24" y2="699.28" stroke="#2a6e3e" stroke-width="1.6" />
<line x1="672.84" y1="702.18" x2="679.24" y2="702.18" stroke="#2a6e3e" stroke-width="1.6" />
<circle cx="676.04" cy="700.73" r="5.2" fill="#1f8a3e"/>
<line x1="781.00" y1="448.60" x2="781.00" y2="691.40" stroke="#111" stroke-width="1.7" />
<line x1="775.70" y1="449.20" x2="781.00" y2="449.20" stroke="#111" stroke-width="1.5" />
<text x="738.95" y="454.20" font-size="15.99" fill="#222" stroke="#222" stroke-width="0.15" textLength="26.68" lengthAdjust="spacingAndGlyphs" >100</text>
<line x1="775.70" y1="497.48" x2="781.00" y2="497.48" stroke="#111" stroke-width="1.5" />
<text x="747.84" y="502.48" font-size="15.99" fill="#222" stroke="#222" stroke-width="0.15" textLength="17.78" lengthAdjust="spacingAndGlyphs" >80</text>
<line x1="775.70" y1="545.76" x2="781.00" y2="545.76" stroke="#111" stroke-width="1.5" />
<text x="747.84" y="550.76" font-size="15.99" fill="#222" stroke="#222" stroke-width="0.15" textLength="17.78" lengthAdjust="spacingAndGlyphs" >60</text>
<line x1="775.70" y1="594.04" x2="781.00" y2="594.04" stroke="#111" stroke-width="1.5" />
<text x="747.84" y="599.04" font-size="15.99" fill="#222" stroke="#222" stroke-width="0.15" textLength="17.78" lengthAdjust="spacingAndGlyphs" >40</text>
<line x1="775.70" y1="642.32" x2="781.00" y2="642.32" stroke="#111" stroke-width="1.5" />
<text x="747.84" y="647.32" font-size="15.99" fill="#222" stroke="#222" stroke-width="0.15" textLength="17.78" lengthAdjust="spacingAndGlyphs" >20</text>
<line x1="775.70" y1="690.60" x2="781.00" y2="690.60" stroke="#111" stroke-width="1.5" />
<text x="756.73" y="695.60" font-size="15.99" fill="#222" stroke="#222" stroke-width="0.15" textLength="8.89" lengthAdjust="spacingAndGlyphs" >0</text>
<line x1="781.20" y1="706.80" x2="985.50" y2="706.80" stroke="#111" stroke-width="1.7" />
<line x1="781.90" y1="706.80" x2="781.90" y2="710.50" stroke="#111" stroke-width="1.5" />
<text x="773.21" y="725.30" font-size="16.28" fill="#222" stroke="#222" stroke-width="0.15" textLength="17.20" lengthAdjust="spacingAndGlyphs" >20</text>
<line x1="849.10" y1="706.80" x2="849.10" y2="710.50" stroke="#111" stroke-width="1.5" />
<text x="840.62" y="728.20" font-size="16.28" fill="#222" stroke="#222" stroke-width="0.15" textLength="17.20" lengthAdjust="spacingAndGlyphs" >40</text>
<line x1="916.80" y1="706.80" x2="916.80" y2="710.50" stroke="#111" stroke-width="1.5" />
<text x="908.11" y="725.20" font-size="16.28" fill="#222" stroke="#222" stroke-width="0.15" textLength="17.20" lengthAdjust="spacingAndGlyphs" >60</text>
<line x1="984.60" y1="706.80" x2="984.60" y2="710.50" stroke="#111" stroke-width="1.5" />
<text x="975.96" y="725.20" font-size="16.28" fill="#222" stroke="#222" stroke-width="0.15" textLength="17.20" lengthAdjust="spacingAndGlyphs" >80</text>
<text x="789.31" y="751.00" font-size="21.22" fill="#1a1a1a" stroke="#1a1a1a" stroke-width="0.25" textLength="185.98" lengthAdjust="spacingAndGlyphs" >MVC 2 (% Baseline)</text>
<text transform="translate(708.80 666.81) rotate(-90)" x="0" y="0" font-size="23.26" fill="#1a1a1a" stroke="#1a1a1a" stroke-width="0.25" textLength="185.14" lengthAdjust="spacingAndGlyphs">Fatigue Perception</text>
<text transform="translate(736.80 656.98) rotate(-90)" x="0" y="0" font-size="20.63" fill="#1a1a1a" stroke="#1a1a1a" stroke-width="0.25" textLength="170.97" lengthAdjust="spacingAndGlyphs">after MVC 2  (a.u.)</text>
<text x="791.96" y="469.60" font-size="16.86" fill="#4a3d58" stroke="#4a3d58" stroke-width="0.15" textLength="58.55" lengthAdjust="spacingAndGlyphs" >r = -0.20</text>
<line x1="863.30" y1="572.60" x2="958.60" y2="596.00" stroke="#5e3a70" stroke-width="2.2" />
<circle cx="885.20" cy="480.50" r="7.8" fill="#7d44a0"/>
<circle cx="905.70" cy="509.80" r="7.8" fill="#7d44a0"/>
<circle cx="925.20" cy="550.20" r="7.8" fill="#7d44a0"/>
<circle cx="951.40" cy="554.30" r="7.8" fill="#7d44a0"/>
<circle cx="864.40" cy="587.50" r="7.8" fill="#7d44a0"/>
<circle cx="882.70" cy="595.90" r="7.8" fill="#7d44a0"/>
<circle cx="911.40" cy="597.50" r="7.8" fill="#7d44a0"/>
<circle cx="929.80" cy="588.10" r="7.8" fill="#7d44a0"/>
<circle cx="961.80" cy="586.00" r="7.8" fill="#7d44a0"/>
<circle cx="965.30" cy="595.10" r="7.8" fill="#7d44a0"/>
<circle cx="982.40" cy="595.90" r="7.8" fill="#7d44a0"/>
<circle cx="935.90" cy="609.70" r="7.8" fill="#7d44a0"/>
<circle cx="948.00" cy="614.60" r="7.8" fill="#7d44a0"/>
<circle cx="909.20" cy="645.20" r="7.8" fill="#7d44a0"/>
<circle cx="912.20" cy="651.00" r="7.8" fill="#7d44a0"/>
<circle cx="948.00" cy="661.90" r="7.8" fill="#7d44a0"/>
</svg>
</body></html>
